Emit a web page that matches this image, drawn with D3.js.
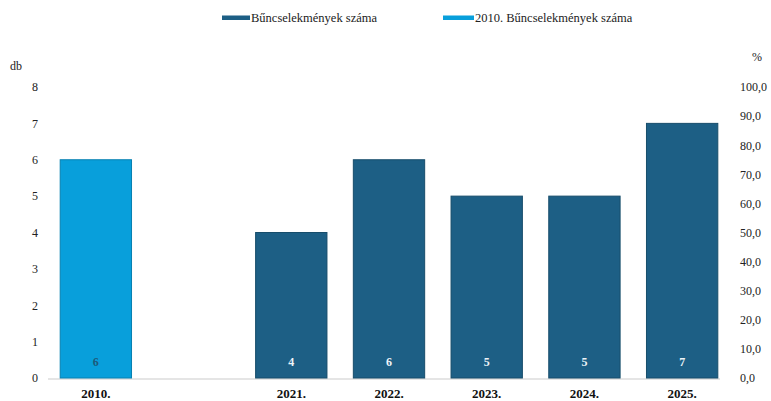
<!DOCTYPE html>
<html><head><meta charset="utf-8">
<script src="https://cdn.jsdelivr.net/npm/d3@7"></script>
<style>body{margin:0;background:#fff}svg{display:block}</style>
</head><body>
<svg id="c" width="771" height="401"></svg>
<script>
const categories = ["2010.", "gap", "2021.", "2022.", "2023.", "2024.", "2025."];
const tickLabels = ["2010.", "", "2021.", "2022.", "2023.", "2024.", "2025."];
const seriesMain = [null, null, 4, 6, 5, 5, 7];
const series2010 = [6, null, null, null, null, null, null];
const leftTicks = [0,1,2,3,4,5,6,7,8];
const rightTicks = [0,10,20,30,40,50,60,70,80,90,100];
const seriesNames = ["Bűncselekmények száma", "2010. Bűncselekmények száma"];
const colors = ["#1d5f85", "#089fdb"];

const svg = d3.select("#c");
const font = '"Liberation Serif"';
const x = d3.scaleBand().domain(categories).range([47, 731]).paddingInner(0.27).paddingOuter(0.135);
const y = d3.scaleLinear().domain([0, 8]).range([378, 87]);
const y2 = d3.scaleLinear().domain([0, 100]).range([378, 87]);

svg.append("line").attr("x1", 48).attr("x2", 720).attr("y1", y(0)+1).attr("y2", y(0)+1)
  .attr("stroke", "#dcdcdc").attr("stroke-width", 1.5);

const gl = svg.append("g").attr("transform", "translate(38,0)")
  .call(d3.axisLeft(y).tickValues(leftTicks).tickSize(0).tickPadding(0).tickFormat(d3.format("d")));
gl.attr("font-family", null);
gl.select(".domain").remove();
gl.selectAll("text").style("font-family", font).style("font-size", "12px").attr("fill", "#222");
svg.append("text").attr("x", 10).attr("y", 70).text("db").style("font-family", font).style("font-size", "12px").attr("fill", "#222");

const gr = svg.append("g").attr("transform", "translate(740,0)")
  .call(d3.axisRight(y2).tickValues(rightTicks).tickSize(0).tickPadding(0).tickFormat(d => d.toFixed(1).replace(".", ",")));
gr.attr("font-family", null);
gr.select(".domain").remove();
gr.selectAll("text").style("font-family", font).style("font-size", "12px").attr("fill", "#222");
svg.append("text").attr("x", 752).attr("y", 61).text("%").style("font-family", font).style("font-size", "12px").attr("fill", "#222");

function drawSeries(vals, color, labelColor) {
  const data = categories.map((c, i) => ({c, v: vals[i]})).filter(d => d.v != null);
  const g = svg.append("g");
  g.selectAll("rect.bar").data(data).join("rect").attr("class", "bar")
    .attr("x", d => x(d.c)).attr("width", x.bandwidth())
    .attr("y", d => y(d.v)).attr("height", d => y(0) - y(d.v))
    .attr("fill", color).attr("stroke", d3.color(color).darker(0.6)).attr("stroke-width", 1);
  g.selectAll("text").data(data).join("text")
    .attr("x", d => x(d.c) + x.bandwidth()/2).attr("y", 366)
    .attr("text-anchor", "middle").style("font-family", font).style("font-weight", "bold")
    .style("font-size", "12px").attr("fill", labelColor).text(d => d.v);
}
drawSeries(seriesMain, colors[0], "#eef4f8");
drawSeries(series2010, colors[1], "#1e5a7a");

const gx = svg.append("g").attr("transform", `translate(0,${y(0)})`)
  .call(d3.axisBottom(x).tickSize(0).tickPadding(11).tickFormat((d, i) => tickLabels[i]));
gx.attr("font-family", null);
gx.select(".domain").remove();
gx.selectAll("text").style("font-family", font).style("font-weight", "bold").style("font-size", "13px").attr("fill", "#111");

const legendX = [222, 443];
const legendW = [28, 31];
seriesNames.forEach((n, i) => {
  svg.append("rect").attr("x", legendX[i]).attr("y", 15.5).attr("width", legendW[i]).attr("height", 4.5).attr("fill", colors[i]);
  svg.append("text").attr("x", legendX[i] + legendW[i] + 1).attr("y", 22).text(n)
    .style("font-family", font).style("font-size", "12.5px").attr("fill", "#222");
});
</script>
</body></html>
